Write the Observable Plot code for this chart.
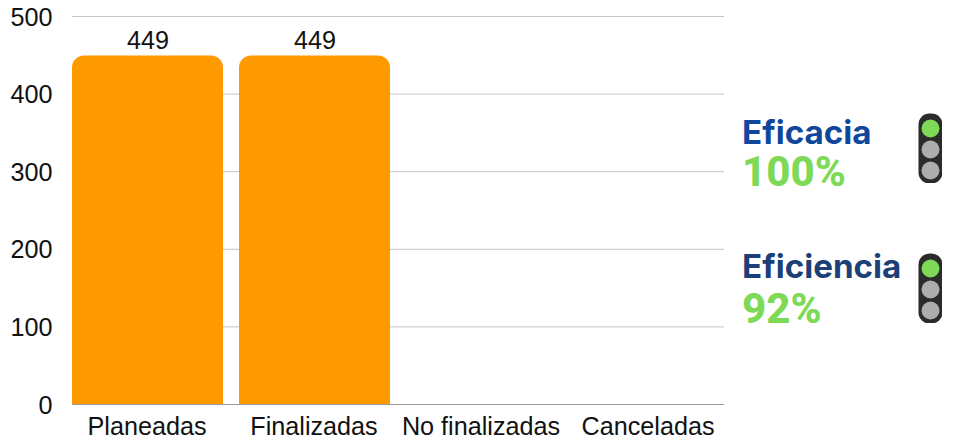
<!DOCTYPE html>
<html>
<head>
<meta charset="utf-8">
<script src="https://cdn.jsdelivr.net/npm/d3@7"></script>
<script src="https://cdn.jsdelivr.net/npm/@observablehq/plot@0.6"></script>
<style>
  html, body { margin: 0; background: #fff; overflow: hidden; }
  #root { position: relative; width: 954px; height: 441px; }
  #root svg { display: block; }
  .name, .pct { position: absolute; left: 742px; font-family: Inter, sans-serif; font-weight: 700; white-space: nowrap; line-height: 0.72; }
  .name { font-size: 33.2px; }
  .pct { font-size: 42px; color: #7ed957; font-family: Roboto, sans-serif; font-weight: 800; }
</style>
</head>
<body>
<div id="root"></div>
<script>
const categories = ["Planeadas", "Finalizadas", "No finalizadas", "Canceladas"];
const counts = [449, 449, 0, 0];
const yTicks = [0, 100, 200, 300, 400, 500];

const indicators = ["Eficacia", "Eficiencia"];
const percents = [100, 92];
const nameColors = ["#10479c", "#1c3f77"];
const activeLamp = ["verde", "verde"];
const lamps = ["verde", "ambar", "rojo"];

const rows = categories.map((c, i) => ({category: c, count: counts[i]}));
const root = document.getElementById("root");
const font = "'Liberation Sans', Arial, sans-serif";

const chart = Plot.plot({
  width: 954, height: 441,
  marginTop: 16, marginBottom: 37, marginLeft: 72, marginRight: 230,
  style: {fontFamily: font, fontSize: "25.2px", color: "#111", background: "transparent", overflow: "visible"},
  x: {domain: categories, label: null, paddingInner: 0.096, paddingOuter: 0},
  y: {domain: [0, 500], label: null},
  marks: [
    Plot.gridY(yTicks, {stroke: "#c4c4c4", strokeOpacity: 1, strokeWidth: 1}),
    Plot.ruleY([0], {stroke: "#999", strokeWidth: 1}),
    Plot.barY(rows.filter(d => d.count > 0), {x: "category", y: "count", fill: "#ff9900", rx1y1: 12, rx2y1: 12}),
    Plot.text(rows.filter(d => d.count > 0), {x: "category", y: "count", text: d => String(d.count), dy: -15.5, fill: "#111", fontSize: 25.2}),
    Plot.axisX({tickSize: 0, tickPadding: 13, dx: -1, label: null}),
    Plot.axisY(yTicks, {tickSize: 0, tickPadding: 20, dy: 1, label: null})
  ]
});
root.appendChild(chart);

const nameTops = [121, 255];
const pctTops = [157, 294];
const lightTops = [113, 253];

indicators.forEach((name, i) => {
  const n = document.createElement("div");
  n.className = "name";
  n.textContent = name;
  n.style.top = nameTops[i] + "px";
  n.style.color = nameColors[i];
  root.appendChild(n);

  const p = document.createElement("div");
  p.className = "pct";
  p.textContent = percents[i] + "%";
  p.style.top = pctTops[i] + "px";
  root.appendChild(p);

  const light = Plot.plot({
    width: 24, height: 70,
    margin: 0,
    axis: null,
    style: {background: "transparent"},
    x: {domain: [0, 1], range: [0, 24]},
    y: {type: "point", domain: lamps, range: [14, 57], padding: 0},
    marks: [
      Plot.frame({fill: "#2b2b2b", stroke: "none", rx: 11}),
      Plot.dot(lamps, {
        x: () => 0.5, y: d => d, r: 9, stroke: "none",
        fill: d => d === activeLamp[i] ? "#7ed957" : "#adadad"
      })
    ]
  });
  light.style.position = "absolute";
  light.style.left = "918px";
  light.style.top = lightTops[i] + "px";
  root.appendChild(light);
});
</script>
</body>
</html>
